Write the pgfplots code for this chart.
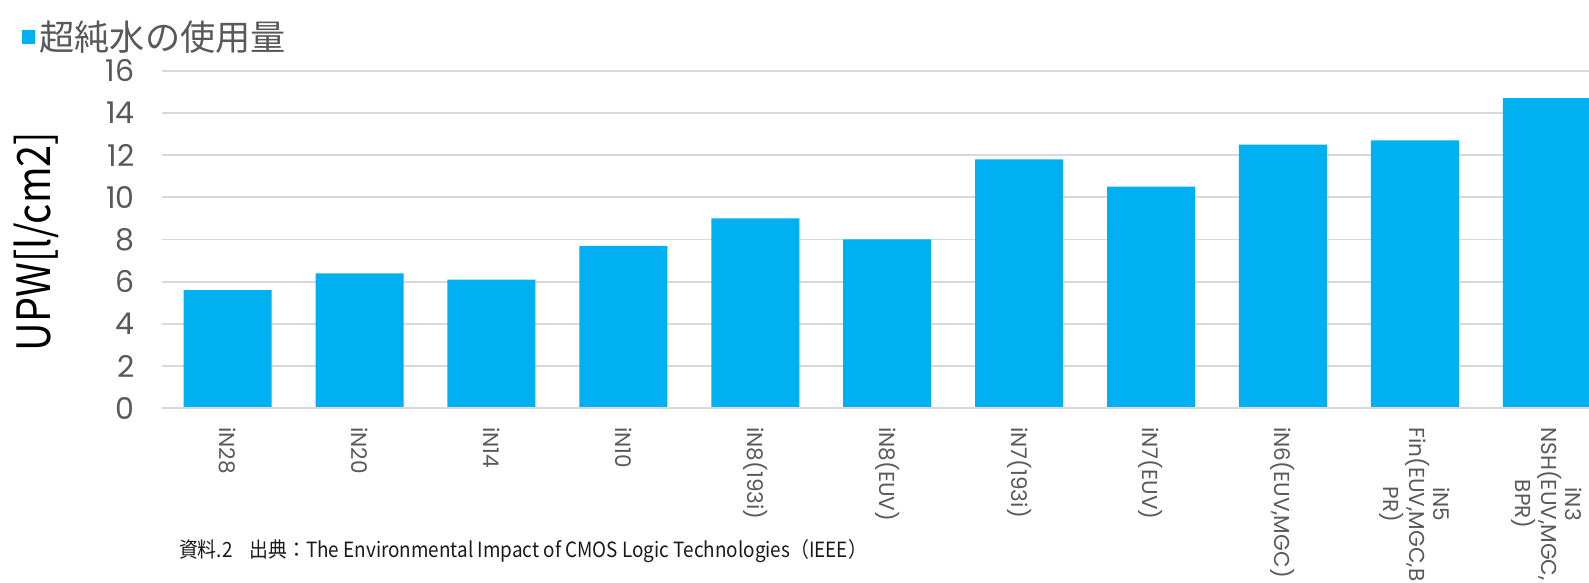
\documentclass[border=0pt]{standalone}
\usepackage{fontspec}
\usepackage{pgfplots}
\pgfplotsset{compat=1.18}
\setmainfont{Poppins}
\newfontfamily\jpfont{Noto Sans CJK JP}
\newfontfamily\notefont[FakeStretch=0.9]{Noto Sans CJK JP}
\newfontfamily\ylabfont[FakeStretch=0.86]{Noto Sans CJK JP}
\definecolor{barblue}{HTML}{00B0F0}
\definecolor{gridgray}{HTML}{D9D9D9}
\definecolor{txtgray}{HTML}{595959}
\begin{document}
\begin{tikzpicture}
\begin{axis}[
    at={(80.85pt,87.35pt)}, anchor=south west,
    scale only axis,
    width=713.65pt, height=168.8pt,
    xmin=-0.5, xmax=10.32,
    ymin=0, ymax=16,
    ytick={0,2,...,16},
    xtick=data,
    xticklabels={iN28,iN20,iN14,iN10,iN8(193i),iN8(EUV),iN7(193i),iN7(EUV),{iN6(EUV,MGC)},{iN5\\Fin(EUV,MGC,B\\PR)},{iN3\\NSH(EUV,MGC,\\BPR)}},
    axis line style={draw=none},
    major tick length=0pt,
    ymajorgrids,
    grid style={gridgray, line width=0.9pt},
    clip=true,
    /pgf/number format/assume math mode=true,
    yticklabel style={font=\fontsize{15}{17}\selectfont, text=txtgray, xshift=-10pt},
    xticklabel style={font=\fontsize{10.8}{12}\selectfont, text=txtgray, yshift=-6pt, rotate=-90, anchor=west, align=center},
    legend style={draw=none, fill=none, at={(-0.098,1.10)}, anchor=west,
        font=\jpfont\fontsize{17.6}{19}\selectfont, text=txtgray, inner sep=0pt,
        legend cell align=left},
    legend image code/.code={\fill[barblue] (0pt,-3.3pt) rectangle (6.6pt,3.3pt);},
    legend style={/tikz/every even column/.append style={column sep=0pt}},
]
\addplot[ybar, bar width=0.667, fill=barblue, draw=none] coordinates {
    (0,5.6) (1,6.4) (2,6.1) (3,7.7) (4,9.0) (5,8.0)
    (6,11.8) (7,10.5) (8,12.5) (9,12.7) (10,14.7)
};
\addlegendentry{超純水の使用量}
\draw[gridgray, line width=1.6pt] (axis cs:-0.5,0) -- (axis cs:10.32,0);
\end{axis}
\node[rotate=90, font=\ylabfont\fontsize{23}{25}\selectfont] at (18pt,170.75pt) {UPW[l/cm2]};
\node[anchor=west, font=\notefont\fontsize{10.5}{12}\selectfont, text=black!90] at (86pt,16pt)
    {資料.2\hspace{0.8em}出典：The Environmental Impact of CMOS Logic Technologies（IEEE）};
\pgfresetboundingbox
\path[use as bounding box] (0,0) rectangle (794.5pt,291.5pt);
\end{tikzpicture}
\end{document}
